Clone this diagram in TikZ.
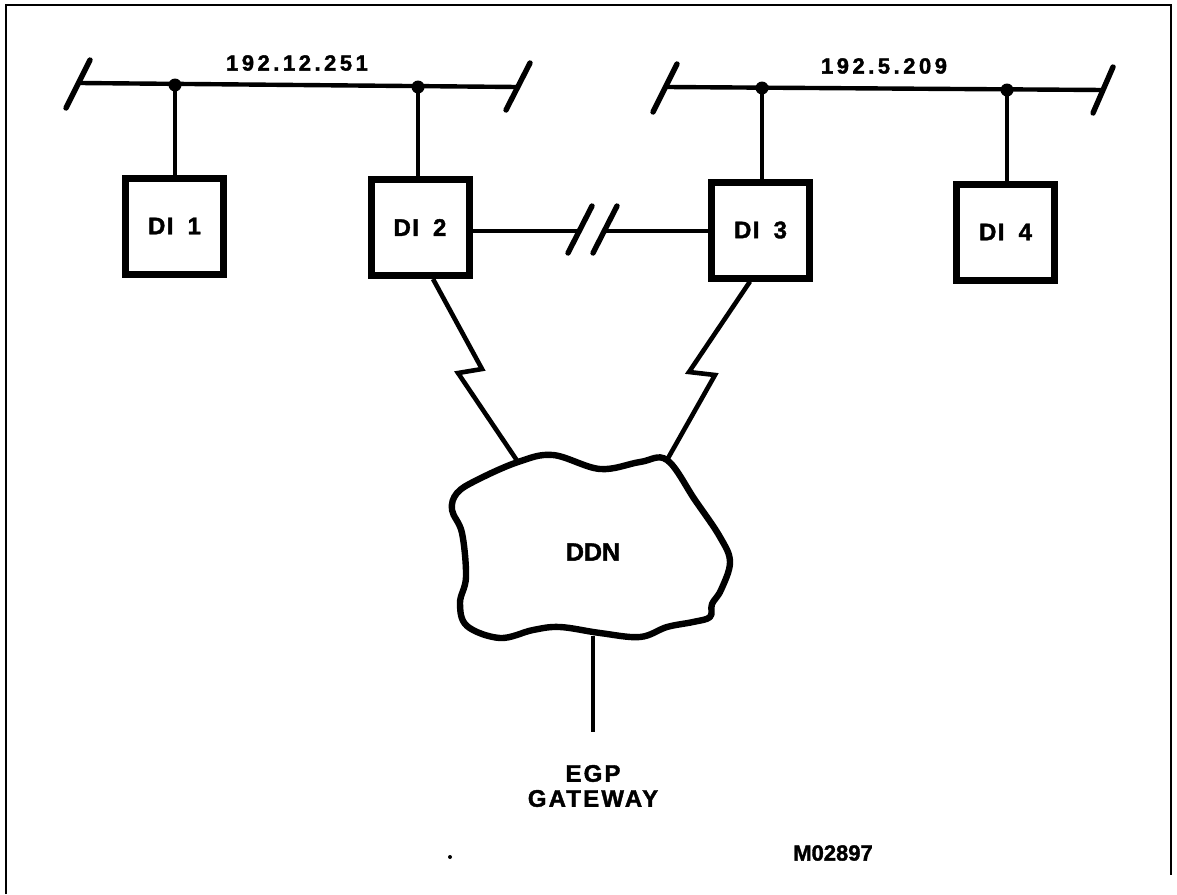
\documentclass[tikz,border=0pt]{standalone}
\usepackage{fontspec}
\setmainfont{Liberation Sans}
\newfontfamily\heavy{Liberation Sans Bold}[FakeBold=1.6]
\begin{document}
\begin{tikzpicture}[x=0.5pt,y=-0.5pt,
  di/.style={draw, line width=3.5pt, minimum width=49pt, minimum height=48pt, inner sep=0pt,
    font=\heavy\fontsize{12}{14}\selectfont\addfontfeature{LetterSpace=6}},
  bus/.style={line width=2.2pt},
  tap/.style={line width=1.7pt},
  endmark/.style={line width=2.7pt, line cap=round},
  tapdot/.style={fill=black},
  zig/.style={line width=2.3pt, line join=miter},
  cloudline/.style={line width=3.2pt, line join=round},
  netlabel/.style={font=\heavy\fontsize{11}{13}\selectfont\addfontfeature{LetterSpace=16}},
  bigtext/.style={font=\heavy\fontsize{12}{12.5}\selectfont\addfontfeature{LetterSpace=9}, align=center},
  ddntext/.style={font=\heavy\fontsize{12.5}{14}\selectfont},
  idtext/.style={font=\heavy\fontsize{11}{13}\selectfont},
  frameline/.style={line width=1pt}]
\useasboundingbox (0,0) rectangle (1177,894);

% frame (open at bottom)
\draw[frameline] (6,894) -- (6,5) -- (1171,5) -- (1171,875);

% bus 192.12.251
\coordinate (b1L) at (80,83);
\coordinate (b1R) at (517,87);
\coordinate (t1) at (175,85);
\coordinate (t2) at (418,87);
\draw[bus] (b1L) -- (b1R);
\draw[endmark] (66,108) -- (90,60);
\draw[endmark] (506,110) -- (530,63);
\node[netlabel] (lab1) at (297,63) {192.12.251};

% bus 192.5.209
\coordinate (b2L) at (667,87);
\coordinate (b2R) at (1103,90);
\coordinate (t3) at (762,88);
\coordinate (t4) at (1007,90);
\draw[bus] (b2L) -- (b2R);
\draw[endmark] (653,112) -- (677,64);
\draw[endmark] (1093,113) -- (1113,67);
\node[netlabel] (lab2) at (884,66) {192.5.209};

% DI boxes
\node[di] (di1) at (174.5,226) {DI\hspace{3pt} 1};
\node[di] (di2) at (420,227.5) {DI\hspace{3pt} 2};
\node[di] (di3) at (760.5,230) {DI\hspace{3pt} 3};
\node[di] (di4) at (1005.5,232) {DI\hspace{3pt} 4};

% taps
\draw[tap] (t1) -- (t1 |- di1.north);
\draw[tap] (t2) -- (t2 |- di2.north);
\draw[tap] (t3) -- (t3 |- di3.north);
\draw[tap] (t4) -- (t4 |- di4.north);
\foreach \t in {t1,t2,t3,t4} \fill[tapdot] (\t) circle (6.5);

% DI2 -- DI3 link with break
\coordinate (brkA) at (580,231);
\coordinate (brkB) at (605,231);
\draw[tap] (di2.east |- brkA) -- (brkA);
\draw[tap] (brkB) -- (di3.west |- brkB);
\draw[endmark] (568,253) -- (592,206);
\draw[endmark] (593,253) -- (617,206);

% DDN cloud
\node[ddntext] (ddn) at (593,552) {DDN};
\coordinate (ddnTL) at (518,462);
\coordinate (ddnTR) at (667,460);
\coordinate (ddnB) at (593,636);
\draw[cloudline] plot[smooth cycle, tension=0.6] coordinates {
  (518,462) (553,455) (600,469) (640,462) (667,460)
  (695,500) (720,537) (730,562) (721,590) (712,604) (710,617)
  (693,622) (667,627) (640,637) (600,633) (560,627) (533,630)
  (500,638) (467,626) (460,603) (466,577) (462,533) (452,510)
  (457,493) (477,480)};

% serial links (zigzag)
\coordinate (z1s) at (di2.south -| 433,0);
\coordinate (z2s) at (di3.south -| 750,0);
\draw[zig] (z1s) -- (482,369) -- (458,373) -- (ddnTL);
\draw[zig] (z2s) -- (689,372) -- (715,375) -- (ddnTR);

% gateway
\coordinate (stemEnd) at (593,732);
\draw[tap] (ddnB) -- (stemEnd);
\node[bigtext] (egp) at (593,786) {EGP\\GATEWAY};

% figure id and stray dot
\node[idtext] (fig) at (833,853) {M02897};
\fill (450,857) circle (2);
\end{tikzpicture}
\end{document}
